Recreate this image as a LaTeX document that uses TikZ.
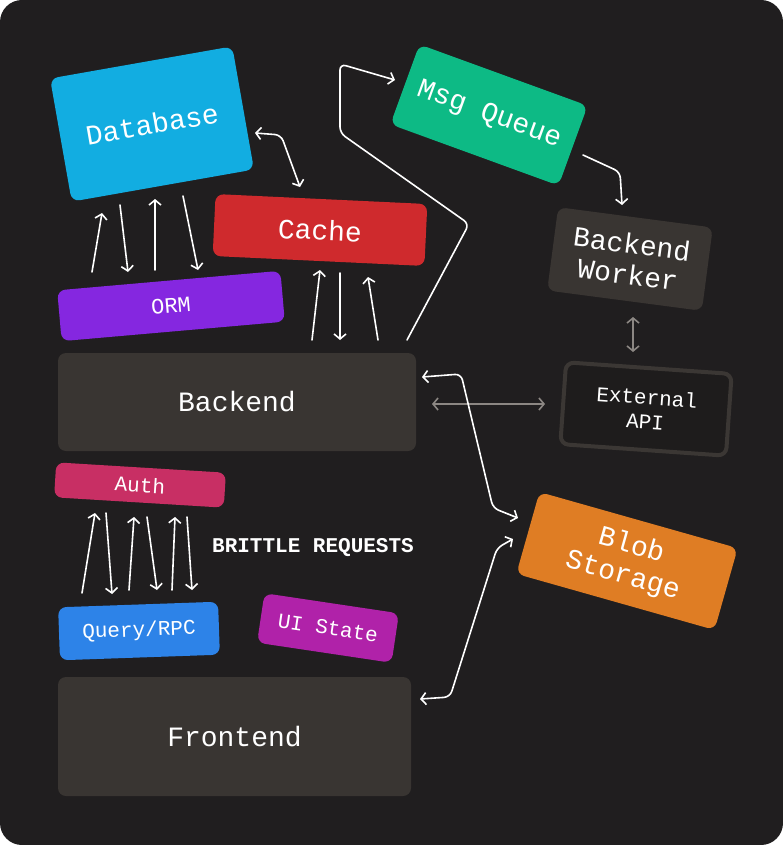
\documentclass[tikz,border=0pt]{standalone}
\usepackage{fontspec}
\setmonofont{Liberation Mono}
\usetikzlibrary{arrows.meta}
\definecolor{bgc}{HTML}{201E1F}
\definecolor{dbc}{HTML}{12ADE1}
\definecolor{cachec}{HTML}{CF2A2D}
\definecolor{ormc}{HTML}{8527E0}
\definecolor{mqc}{HTML}{0DBA85}
\definecolor{darkc}{HTML}{393532}
\definecolor{extfill}{HTML}{1E1C1C}
\definecolor{extborder}{HTML}{3B3734}
\definecolor{authc}{HTML}{C82F64}
\definecolor{queryc}{HTML}{2D83E8}
\definecolor{uic}{HTML}{B022A9}
\definecolor{blobc}{HTML}{DF7D24}
\definecolor{grayarrow}{HTML}{8C8783}
\tikzset{
  box/.style={rounded corners=8pt, inner sep=0pt, align=center, text=white},
  bigtxt/.style={font=\ttfamily\fontsize{28}{31}\selectfont},
  smalltxt/.style={font=\ttfamily\fontsize{21}{24}\selectfont},
  wire/.style={draw=white, line width=1.6pt, rounded corners=6pt, line cap=round,
    arrows={-Straight Barb[length=5pt,width=12pt]}},
  dwire/.style={wire, arrows={Straight Barb[length=5pt,width=12pt]-Straight Barb[length=5pt,width=12pt]}},
  gwire/.style={draw=grayarrow, line width=1.6pt, line cap=round,
    arrows={Straight Barb[length=5pt,width=12pt]-Straight Barb[length=5pt,width=12pt]}}
}
\begin{document}
\begin{tikzpicture}[x=1pt,y=-1pt]
\useasboundingbox (0,0) rectangle (783,845);
\fill[white] (0,0) rectangle (783,845);
\fill[bgc, rounded corners=22pt] (0,0) rectangle (783,845);

% nodes
\node[box, bigtxt, fill=dbc, minimum width=185pt, minimum height=125pt, rotate=10] (db) at (152,124) {Database};
\node[box, bigtxt, fill=cachec, minimum width=212pt, minimum height=62pt, rotate=-2.7] (cache) at (320,230) {Cache};
\node[box, font=\ttfamily\fontsize{22}{24}\selectfont, fill=ormc, minimum width=224pt, minimum height=51pt, rotate=5] (orm) at (171,306) {ORM};
\node[box, bigtxt, fill=mqc, minimum width=179pt, minimum height=85pt, rotate=-20] (mq) at (489,115) {Msg Queue};
\node[box, bigtxt, fill=darkc, minimum width=156pt, minimum height=84pt, rotate=-7.5] (worker) at (630,259) {Backend\\Worker};
\node[box, smalltxt, fill=extfill, draw=extborder, line width=4pt, minimum width=166pt, minimum height=82pt, rotate=-4] (ext) at (646,409) {External\\API};
\node[box, bigtxt, fill=darkc, minimum width=358pt, minimum height=98pt] (backend) at (237,402) {Backend};
\node[box, bigtxt, fill=darkc, minimum width=353pt, minimum height=119pt] (frontend) at (234.5,736.5) {Frontend};
\node[box, smalltxt, fill=authc, minimum width=170pt, minimum height=35pt, rotate=-3.5] (auth) at (140,485) {Auth};
\node[box, smalltxt, fill=queryc, minimum width=160pt, minimum height=53pt, rotate=2] (query) at (139,631) {Query/RPC};
\node[box, smalltxt, fill=uic, minimum width=136pt, minimum height=50pt, rotate=-8.5] (ui) at (328,628) {UI State};
\node[box, bigtxt, fill=blobc, minimum width=206pt, minimum height=85pt, rotate=-15.8] (blob) at (627,561) {Blob\\Storage};
\node[text=white, font=\ttfamily\bfseries\fontsize{21}{24}\selectfont] (brittle) at (313,548) {BRITTLE REQUESTS};

% Database <-> Cache
\draw[dwire] (255,133) -- (281,135) -- (300,187);
% Database / ORM
\draw[wire] (92,272) -- (102,213);
\draw[wire] (120,205) -- (128,272);
\draw[wire] (155,270) -- (155,199);
\draw[wire] (183,196) -- (198,270);
% Cache / Backend
\draw[wire] (312,340) -- (320,270);
\draw[wire] (340,273) -- (340,340);
\draw[wire] (378,340) -- (368,277);
% Backend -> Msg Queue
\draw[wire] (407,340) -- (469,224) -- (340,133) -- (340,64) -- (395,80);
% Msg Queue -> Worker
\draw[wire] (583,155) -- (620,172) -- (622,205);
% Worker <-> External
\draw[gwire] (633,317) -- (633,352);
% Backend <-> External
\draw[gwire] (432,404) -- (545,404);
% Backend <-> Blob
\draw[dwire] (422,377) -- (461,374) -- (493,508) -- (518,518);
% Frontend <-> Blob
\draw[dwire] (513,539) -- (497,548) -- (450,697) -- (420,699);
% Auth / Query
\draw[wire] (82,593) -- (95,513);
\draw[wire] (106,513) -- (112,594);
\draw[wire] (129,590) -- (134,517);
\draw[wire] (147,517) -- (157,590);
\draw[wire] (172,590) -- (175,517);
\draw[wire] (187,517) -- (192,590);
\end{tikzpicture}
\end{document}
